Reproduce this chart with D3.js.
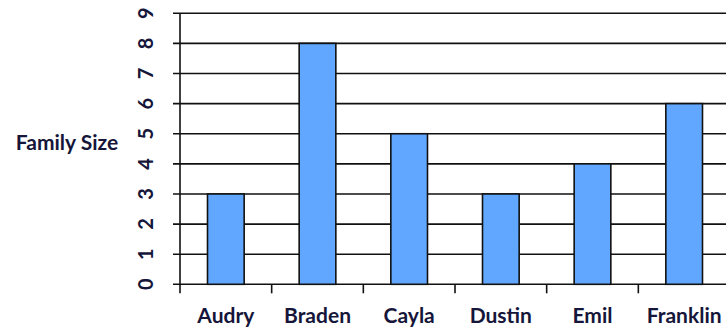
<!DOCTYPE html>
<html>
<head>
<meta charset="utf-8">
<script src="https://cdn.jsdelivr.net/npm/d3@7"></script>
<style>
  html, body { margin: 0; padding: 0; background: #fff; overflow: hidden; }
  svg { display: block; }
  text { font-family: Lato, "Liberation Sans", sans-serif; font-weight: 700; fill: #16163a; }
</style>
</head>
<body>
<svg id="chart" width="726" height="330"></svg>
<script>
// Family size per person
const names = ["Audry", "Braden", "Cayla", "Dustin", "Emil", "Franklin"];
const familySize = [3, 8, 5, 3, 4, 6];
const yTicks = [0, 1, 2, 3, 4, 5, 6, 7, 8, 9];
const yTitle = "Family Size";

const svg = d3.select("#chart");
const plotLeft = 180, plotRight = 730, plotTop = 13.3, plotBottom = 284.3;

const x = d3.scaleBand().domain(names).range([plotLeft, plotRight]).paddingInner(0.6).paddingOuter(0.3);
const y = d3.scaleLinear().domain([0, 9]).range([plotBottom, plotTop]);
const step = x.step();

// horizontal gridlines with short ticks left of the axis
svg.append("g").selectAll("line").data(yTicks).join("line")
  .attr("x1", plotLeft - 7).attr("x2", plotRight)
  .attr("y1", d => y(d)).attr("y2", d => y(d))
  .attr("stroke", "#111").attr("stroke-width", 1.6);

// bars
svg.append("g").selectAll("rect").data(names).join("rect")
  .attr("x", d => x(d))
  .attr("y", (d, i) => y(familySize[i]))
  .attr("width", x.bandwidth())
  .attr("height", (d, i) => y(0) - y(familySize[i]))
  .attr("fill", "#61a7ff")
  .attr("stroke", "#111").attr("stroke-width", 1.6);

// vertical axis line
svg.append("line")
  .attr("x1", plotLeft).attr("x2", plotLeft).attr("y1", plotTop).attr("y2", plotBottom + 9)
  .attr("stroke", "#111").attr("stroke-width", 1.6);

// category boundary ticks below the baseline
svg.append("g").selectAll("line").data(names.slice(1)).join("line")
  .attr("x1", d => x(d) - step * 0.3)
  .attr("x2", d => x(d) - step * 0.3)
  .attr("y1", plotBottom).attr("y2", plotBottom + 9)
  .attr("stroke", "#111").attr("stroke-width", 1.6);

// rotated y tick labels
svg.append("g").selectAll("text").data(yTicks).join("text")
  .attr("transform", d => `translate(153,${y(d)}) rotate(-90)`)
  .attr("text-anchor", "middle")
  .attr("font-size", 20)
  .text(d => d);

// category labels
svg.append("g").selectAll("text").data(names).join("text")
  .attr("x", d => x(d) + x.bandwidth() / 2)
  .attr("y", 323.3)
  .attr("text-anchor", "middle")
  .attr("font-size", 21)
  .text(d => d);

// axis title
svg.append("text")
  .attr("x", 67).attr("y", 150)
  .attr("text-anchor", "middle")
  .attr("font-size", 21)
  .text(yTitle);
</script>
</body>
</html>
